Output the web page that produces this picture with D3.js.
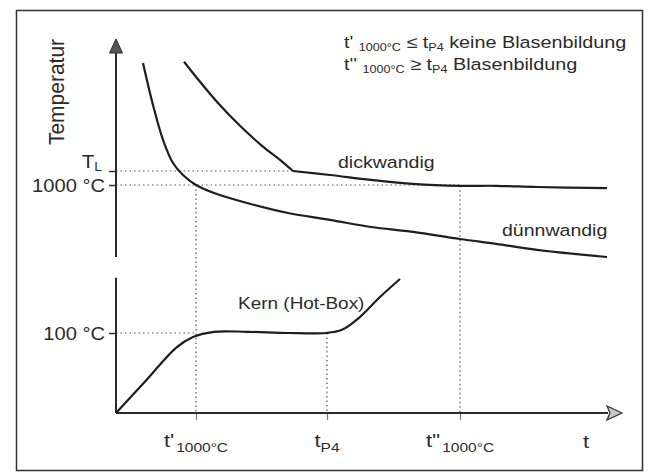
<!DOCTYPE html>
<html>
<head>
<meta charset="utf-8">
<script src="https://cdn.jsdelivr.net/npm/d3@7"></script>
<style>
body { margin: 0; background: #fff; }
svg { display: block; }
text { font-family: "Liberation Sans", Arial, Helvetica, sans-serif; fill: #2b2b2b; }
</style>
</head>
<body>
<svg id="chart" width="648" height="473"></svg>
<script>
// schematic units: time 0..100, temperature 0..100 (axis broken between core and casting)
const duennwandig = [[5.4, 87.5], [7.4, 77], [9.4, 68.3], [11.4, 62.5], [13.4, 59.5], [16, 57], [19.6, 55],
    [26.2, 52.5], [34.4, 50], [42.8, 48.3], [51, 46.5], [59.4, 45.3], [68.8, 43.5], [76, 42.3], [84.2, 40.8], [98.2, 39]];
const dickwandig = [[13.6, 87.8], [16.8, 82.8], [20.4, 77.5], [24.8, 71.8], [29.2, 66.8], [32.8, 63.3], [35.4, 60.5],
    [42.8, 59.5], [51, 58.3], [59.4, 57.3], [68.8, 56.8], [76, 56.8], [84.2, 56.5], [98.2, 56.2]];
const kern = [[0, 0], [6, 8.1], [12, 16.3], [15.4, 19], [19.6, 20.3], [26.2, 20.3], [34.4, 20], [42, 20],
    [45.2, 20.8], [48.6, 23.8], [52.8, 29], [56.8, 33.5]];

const yTicks = [20, 57, 60.5];
const yTickLabels = [["100 °C", ""], ["1000 °C", ""], ["T", "L"]];
const tTicks = [16, 42.2, 68.8];
const tTickLabels = [["t'", "1000°C"], ["t", "P4"], ["t''", "1000°C"]];

const svg = d3.select("#chart");
const x = d3.scaleLinear().domain([0, 100]).range([116, 616]);
const y = d3.scaleLinear().domain([0, 100]).range([413, 13]);
const sx = 1.15; // scan is a bit stretched sideways

// frame
svg.append("rect")
    .attr("x", 16.5).attr("y", 10.5)
    .attr("width", 626).attr("height", 460)
    .attr("fill", "none").attr("stroke", "#333").attr("stroke-width", 1.5);

// helper lines (dotted)
const dots = svg.append("g")
    .attr("stroke", "#555").attr("stroke-width", 1.2)
    .attr("stroke-dasharray", "1.5,3").attr("fill", "none");
dots.append("line").attr("x1", x(0)).attr("x2", x(35.4)).attr("y1", y(60.5)).attr("y2", y(60.5));
dots.append("line").attr("x1", x(0)).attr("x2", x(68.8)).attr("y1", y(57)).attr("y2", y(57));
dots.append("line").attr("x1", x(0)).attr("x2", x(16)).attr("y1", y(20)).attr("y2", y(20));
dots.append("line").attr("x1", x(16)).attr("x2", x(16)).attr("y1", y(57)).attr("y2", y(0));
dots.append("line").attr("x1", x(42.2)).attr("x2", x(42.2)).attr("y1", y(20)).attr("y2", y(0));
dots.append("line").attr("x1", x(68.8)).attr("x2", x(68.8)).attr("y1", y(56.8)).attr("y2", y(0));

// axes
const yAxis = svg.append("g")
    .attr("transform", "translate(" + x(0) + ",0)")
    .call(d3.axisLeft(y).tickValues(yTicks).tickSize(7).tickFormat(""));
yAxis.select(".domain").remove();
yAxis.selectAll(".tick line").attr("stroke", "#333").attr("stroke-width", 1.5);

const xAxis = svg.append("g")
    .attr("transform", "translate(0," + y(0) + ")")
    .call(d3.axisBottom(x).tickValues(tTicks).tickSize(7).tickFormat(""));
xAxis.select(".domain").remove();
xAxis.selectAll(".tick line").attr("stroke", "#777").attr("stroke-width", 1.2);

const axisLine = d3.line().x(d => x(d[0])).y(d => y(d[1]));
svg.append("path").attr("d", axisLine([[0, 39], [0, 90]]))
    .attr("stroke", "#2b2b2b").attr("stroke-width", 2).attr("fill", "none");
svg.append("path").attr("d", axisLine([[0, 0], [0, 33.8]]))
    .attr("stroke", "#2b2b2b").attr("stroke-width", 2).attr("fill", "none");
svg.append("path").attr("d", axisLine([[0, 0], [98.4, 0]]))
    .attr("stroke", "#2b2b2b").attr("stroke-width", 2).attr("fill", "none");

// arrow heads
svg.append("path")
    .attr("d", "M" + x(0) + "," + y(93.5) + " l-6.5,14 l13,0 z")
    .attr("fill", "#555").attr("stroke", "#2b2b2b").attr("stroke-width", 1);
svg.append("path")
    .attr("d", "M" + x(101.2) + "," + y(0) + " l-15,-7 l3,7 l-3,7 z")
    .attr("fill", "#c8c8c8").attr("stroke", "#333").attr("stroke-width", 1.3);

// curves
const curve = d3.line()
    .x(d => x(d[0])).y(d => y(d[1]))
    .curve(d3.curveCatmullRom.alpha(0.5));
const drawCurve = pts => svg.append("path")
    .attr("d", curve(pts))
    .attr("fill", "none").attr("stroke", "#1e1e1e")
    .attr("stroke-width", 2.2).attr("stroke-linejoin", "round");
drawCurve(duennwandig);
drawCurve(dickwandig.slice(0, 7));
drawCurve(dickwandig.slice(6));
drawCurve(kern);

// text helper: stretched sideways like the scan
function label(px, py, parts, size, anchor, subSize, subDy) {
    const t = svg.append("text")
        .attr("transform", "translate(" + px + "," + py + ") scale(" + sx + ",1)")
        .attr("text-anchor", anchor)
        .style("font-size", size + "px");
    t.append("tspan").text(parts[0]);
    if (parts[1]) {
        t.append("tspan").attr("dy", subDy).style("font-size", subSize + "px").text(parts[1]);
    }
    return t;
}

// y tick labels
yTicks.forEach((v, i) => {
    const p = yTickLabels[i];
    if (p[1]) label(x(0) - 14, y(v) - 3, p, 18, "end", 12, 3);
    else label(x(0) - 11, y(v) + 6.5, p, 17.5, "end");
});

// t tick labels
tTicks.forEach((v, i) => {
    const p = tTickLabels[i];
    const t = label(x(v), y(0) + 34, [p[0], ""], 19, "middle");
    t.append("tspan").text(i === 1 ? "" : " ").style("font-size", "6px");
    t.append("tspan").attr("dy", 5).style("font-size", "13.5px").text(p[1]);
});
label(x(94), y(0) + 35, ["t", ""], 19, "middle");

// axis title
svg.append("text")
    .attr("transform", "translate(64,92) scale(1.08,1) rotate(-90)")
    .attr("text-anchor", "middle")
    .style("font-size", "21px")
    .text("Temperatur");

// curve names
label(x(44.4), y(61.2), ["dickwandig", ""], 17, "start");
label(x(77.2), y(44.2), ["dünnwandig", ""], 17, "start");
label(x(24.4), y(26), ["Kern (Hot-Box)", ""], 16.5, "start");

// rule in the corner
function rule(py, first, sign, tail) {
    const t = svg.append("text")
        .attr("transform", "translate(344," + py + ") scale(1.2,1)")
        .style("font-size", "16.5px");
    t.append("tspan").text(first + " ");
    t.append("tspan").attr("dy", 3).style("font-size", "10.5px").text("1000°C");
    t.append("tspan").attr("dy", -3).text(" " + sign + " t");
    t.append("tspan").attr("dy", 3).style("font-size", "10.5px").text("P4");
    t.append("tspan").attr("dy", -3).text(" " + tail);
}
rule(48, "t'", "≤", "keine Blasenbildung");
rule(70, "t''", "≥", "Blasenbildung");
</script>
</body>
</html>
